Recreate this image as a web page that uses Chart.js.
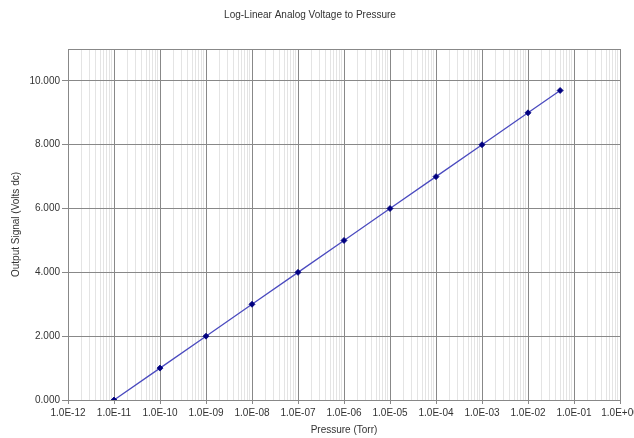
<!DOCTYPE html>
<html>
<head>
<meta charset="utf-8">
<script src="https://cdn.jsdelivr.net/npm/chart.js@4/dist/chart.umd.min.js"></script>
<style>
  html, body { margin: 0; padding: 0; background: #fff; }
  #wrap { width: 634px; height: 438px; }
</style>
</head>
<body>
<div id="wrap"><canvas id="c" width="634" height="438"></canvas></div>
<script>
// Pressure (Torr) vs. analog output voltage
const pressures = [1e-11, 1e-10, 1e-9, 1e-8, 1e-7, 1e-6, 1e-5, 1e-4, 1e-3, 1e-2, 5e-2];
const voltages  = [0, 1, 2, 3, 4, 5, 6, 7, 8, 9, 9.7];

// Axis ranges
const decadeMin = -12, decadeMax = 0;
const voltMin = 0, voltMax = 11, voltStep = 2;

const FONT = "'Liberation Sans', Arial, sans-serif";
const TEXT = '#333';
const MAJOR = '#888';
const MINOR = '#e4e4e4';

function isDecade(v) {
  const l = Math.log10(v);
  return Math.abs(l - Math.round(l)) < 1e-9;
}
function sciLabel(v) {
  const e = Math.round(Math.log10(v));
  const sign = e < 0 ? '-' : '+';
  const a = Math.abs(e);
  return '1.0E' + sign + (a < 10 ? '0' + a : '' + a);
}

// gray frame around the plot area
const frame = {
  id: 'frame',
  afterDatasetsDraw(chart) {
    const a = chart.chartArea, g = chart.ctx;
    g.save();
    g.strokeStyle = MAJOR;
    g.lineWidth = 1;
    g.strokeRect(Math.round(a.left) + 0.5, Math.round(a.top) + 0.5,
                 Math.round(a.right - a.left), Math.round(a.bottom - a.top));
    g.restore();
  }
};

new Chart(document.getElementById('c'), {
  type: 'line',
  data: {
    datasets: [{
      data: pressures.map((p, i) => ({ x: p, y: voltages[i] })),
      borderColor: '#4a4abf',
      borderWidth: 1.3,
      backgroundColor: '#000080',
      pointBackgroundColor: '#000080',
      pointBorderColor: '#000080',
      pointStyle: 'rectRot',
      pointRadius: 3,
      pointBorderWidth: 0.8,
      tension: 0,
      fill: false
    }]
  },
  options: {
    responsive: false,
    animation: false,
    events: [],
    layout: { padding: { top: 0, left: 0, right: 14, bottom: 0 } },
    plugins: {
      legend: { display: false },
      tooltip: { enabled: false },
      title: {
        display: true,
        text: 'Log-Linear Analog Voltage to Pressure',
        color: TEXT,
        font: { family: FONT, size: 10, weight: 'normal' },
        padding: { top: 9, bottom: 28 }
      }
    },
    scales: {
      x: {
        type: 'logarithmic',
        min: Math.pow(10, decadeMin),
        max: Math.pow(10, decadeMax),
        afterBuildTicks(scale) {
          const t = [];
          for (let d = decadeMin; d <= decadeMax; d++) {
            for (let m = 1; m <= 9; m++) {
              if (d === decadeMax && m > 1) break;
              t.push({ value: m * Math.pow(10, d) });
            }
          }
          scale.ticks = t;
        },
        afterFit(scale) {
          scale.height = 38;
          scale.paddingLeft = 0;
          scale.paddingRight = 0;
        },
        border: { display: true, color: MAJOR, width: 1 },
        grid: {
          color: ctx => (ctx.tick && isDecade(ctx.tick.value)) ? MAJOR : MINOR,
          tickColor: ctx => (ctx.tick && isDecade(ctx.tick.value)) ? MAJOR : 'rgba(0,0,0,0)',
          tickLength: 4,
          lineWidth: 1
        },
        ticks: {
          autoSkip: false,
          maxRotation: 0,
          minRotation: 0,
          padding: 3,
          color: TEXT,
          font: { family: FONT, size: 10 },
          callback: v => isDecade(v) ? sciLabel(v) : ''
        },
        title: {
          display: true,
          text: 'Pressure (Torr)',
          color: TEXT,
          font: { family: FONT, size: 10 },
          padding: { top: 0, bottom: 2 }
        }
      },
      y: {
        type: 'linear',
        min: voltMin,
        max: voltMax,
        afterBuildTicks(scale) {
          scale.ticks = scale.ticks.filter(t => t.value % voltStep === 0);
        },
        afterFit(scale) {
          scale.width = 68;
          scale.paddingTop = 0;
          scale.paddingBottom = 0;
        },
        border: { display: true, color: MAJOR, width: 1 },
        grid: {
          color: MAJOR,
          tickColor: MAJOR,
          tickLength: 6,
          lineWidth: 1
        },
        ticks: {
          stepSize: voltStep,
          autoSkip: false,
          padding: 2,
          color: TEXT,
          font: { family: FONT, size: 10 },
          callback: v => v.toFixed(3)
        },
        title: {
          display: true,
          text: 'Output Signal (Volts dc)',
          color: TEXT,
          font: { family: FONT, size: 10 },
          padding: { top: 10, bottom: 0 }
        }
      }
    }
  },
  plugins: [frame]
});
</script>
</body>
</html>
